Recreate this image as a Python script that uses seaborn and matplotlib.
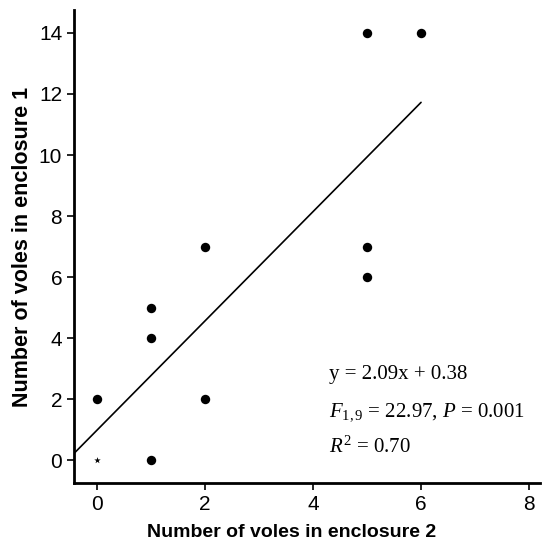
import numpy as np
import pandas as pd
import matplotlib
matplotlib.use("Agg")
import matplotlib.pyplot as plt
import seaborn as sns

# data
enclosure2 = [0, 1, 1, 1, 2, 2, 5, 5, 5, 6]
enclosure1 = [2, 0, 4, 5, 7, 2, 14, 7, 6, 14]
star_x = [0]
star_y = [0]

eq_text = "y = 2.09x + 0.38"
f_text = r"$F_{1,9}$ = 22.97, $P$ = 0.001"
r_text = r"$R^2$ = 0.70"

sns.set_theme(style="ticks")
plt.rcParams["font.family"] = ["Liberation Sans", "DejaVu Sans"]
plt.rcParams["mathtext.fontset"] = "custom"
plt.rcParams["mathtext.rm"] = "Liberation Serif"
plt.rcParams["mathtext.it"] = "Liberation Serif:italic"

df = pd.DataFrame({"x": enclosure2, "y": enclosure1})
all_x = np.array(enclosure2 + star_x)
all_y = np.array(enclosure1 + star_y)

fig = plt.figure(figsize=(5.48, 5.56), dpi=100)
ax = fig.add_axes([0.135, 0.131, 0.85, 0.851])

sns.scatterplot(data=df, x="x", y="y", ax=ax, color="black", s=46,
                edgecolor="black", linewidth=0)
ax.scatter(star_x, star_y, marker="*", s=24, color="black", linewidths=0)

# least squares fit across the data
xmin, xmax = -0.43, 8.2
slope, icpt = np.polyfit(all_x, all_y, 1)
xs = np.array([xmin, all_x.max()])
sns.lineplot(x=xs, y=slope * xs + icpt, ax=ax, color="black", linewidth=1.2)

ax.set_xlim(xmin, xmax)
ax.set_ylim(-0.75, 14.75)
ax.set_xticks([0, 2, 4, 6, 8])
ax.set_yticks([0, 2, 4, 6, 8, 10, 12, 14])
ax.tick_params(labelsize=15, width=1.2, length=5, color="black", labelcolor="black")
for s in ["left", "bottom"]:
    ax.spines[s].set_linewidth(2)
    ax.spines[s].set_color("black")
sns.despine(ax=ax)

ax.set_xlabel("Number of voles in enclosure 2", fontsize=14, fontweight="bold",
              color="black")
ax.set_ylabel("Number of voles in enclosure 1", fontsize=15.5, fontweight="bold",
              color="black")
ax.xaxis.set_label_coords(0.468, -0.087)
ax.yaxis.set_label_coords(-0.088, 0.5)

tx = dict(fontsize=15, family="Liberation Serif", color="black", transform=ax.transData)
ax.text(4.3, 2.65, eq_text, **tx)
ax.text(4.3, 1.45, f_text, **tx)
ax.text(4.3, 0.25, r_text, **tx)

fig.savefig("out.png", dpi=100)
